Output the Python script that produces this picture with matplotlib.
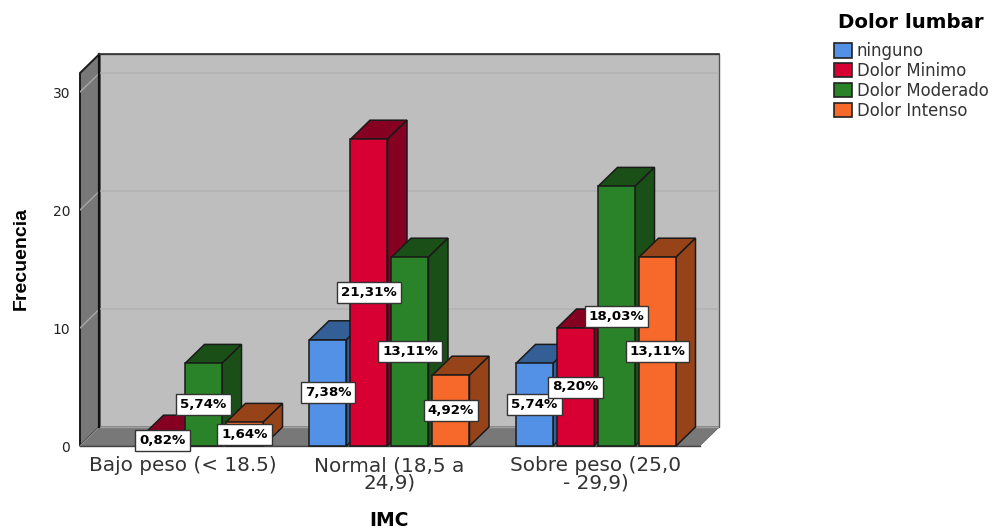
import matplotlib
matplotlib.use("Agg")
import matplotlib.pyplot as plt
from matplotlib.patches import Polygon, Patch

categories = ["Bajo peso (< 18.5)", "Normal (18,5 a\n24,9)", "Sobre peso (25,0\n- 29,9)"]
series_names = ["ninguno", "Dolor Minimo", "Dolor Moderado", "Dolor Intenso"]
ninguno = [0, 9, 7]
minimo = [1, 26, 10]
moderado = [7, 16, 22]
intenso = [2, 6, 16]
ninguno_pct = ["", "7,38%", "5,74%"]
minimo_pct = ["0,82%", "21,31%", "8,20%"]
moderado_pct = ["5,74%", "13,11%", "18,03%"]
intenso_pct = ["1,64%", "4,92%", "13,11%"]
y_ticks = [0, 10, 20, 30]

front_colors = ["#5291E6", "#D80032", "#2A8328", "#F7692B"]
shade_colors = ["#345F96", "#860022", "#1A5017", "#964319"]
EDGE = "#1a1a1a"

W, H = 995, 529
fig = plt.figure(figsize=(W / 100, H / 100), dpi=100)
L, R, T, B = 80, 719, 54, 446
ax = fig.add_axes([L / W, 1 - B / H, (R - L) / W, (B - T) / H])

PX_X = 206.5      # pixels per category
PX_Y = 11.8       # pixels per count
x_min = (L - 183) / PX_X
x_max = x_min + (R - L) / PX_X
y_max = (B - T) / PX_Y
ax.set_xlim(x_min, x_max)
ax.set_ylim(0, y_max)

dx = 19.5 / PX_X  # depth offset of the 3D projection
dy = 19 / PX_Y
bar_w = 37 / PX_X
bar_step = 41 / PX_X


def face(points, fc, ec=EDGE, lw=1.1, z=2):
    ax.add_patch(Polygon(points, closed=True, fc=fc, ec=ec, lw=lw, zorder=z,
                         clip_on=False, joinstyle="miter"))


# Chart box: back wall, left wall and floor
face([(x_min + dx, dy), (x_max, dy), (x_max, y_max), (x_min + dx, y_max)], "#BEBEBE", ec="#555555", lw=1.0, z=1)
face([(x_min, 0), (x_min + dx, dy), (x_min + dx, y_max), (x_min, y_max - dy)], "#787878", lw=1.4, z=1)
face([(x_min, 0), (x_max - dx, 0), (x_max, dy), (x_min + dx, dy)], "#787878", ec="#6a6a6a", lw=0.8, z=1)
ax.plot([x_min + dx, x_min + dx], [dy, y_max], color="#111111", lw=1.6, zorder=1.2, clip_on=False)
ax.plot([x_min, x_max - dx], [0, 0], color="#444444", lw=1.0, zorder=1.2, clip_on=False)
ax.plot([x_min + dx, x_max], [y_max, y_max], color="#333333", lw=1.2, zorder=1.2, clip_on=False)

# Gridlines wrap around the left wall and the back wall
for v in y_ticks[1:]:
    ax.plot([x_min + dx, x_max], [v + dy, v + dy], color="#B2B2B2", lw=1.2, zorder=1.1)
    ax.plot([x_min, x_min + dx], [v, v + dy], color="#A8A8A8", lw=1.0, zorder=1.1)
ax.plot([x_min, x_min + dx], [0, dy], color="#8E8E8E", lw=0.8, zorder=1.1)
ax.plot([x_min + dx, x_max], [dy, dy], color="#A0A0A0", lw=1.0, zorder=1.1)

series = [ninguno, minimo, moderado, intenso]
labels = [ninguno_pct, minimo_pct, moderado_pct, intenso_pct]

# Bars: left to right so each one overlaps the side of the previous one
for g in range(len(categories)):
    for s, vals in enumerate(series):
        v = vals[g]
        if v == 0:
            continue
        x0 = g - 1.5 * bar_step - bar_w / 2 + s * bar_step
        x1 = x0 + bar_w
        face([(x0, v), (x1, v), (x1 + dx, v + dy), (x0 + dx, v + dy)], shade_colors[s])
        face([(x1, 0), (x1 + dx, dy), (x1 + dx, v + dy), (x1, v)], shade_colors[s])
        face([(x0, 0), (x1, 0), (x1, v), (x0, v)], front_colors[s])

# Percentage labels centred on the front face of each bar
for g in range(len(categories)):
    for s, vals in enumerate(series):
        if not labels[s][g]:
            continue
        xc = g - 1.5 * bar_step + s * bar_step
        ax.text(xc, vals[g] / 2, labels[s][g], ha="center", va="center",
                fontsize=9.6, fontweight="bold", family="DejaVu Sans", color="black", zorder=5,
                bbox=dict(boxstyle="square,pad=0.3", fc="white", ec="#333333", lw=1.0))

for sp in ax.spines.values():
    sp.set_visible(False)
ax.patch.set_visible(False)
ax.set_yticks(y_ticks)
ax.set_yticklabels([str(v) for v in y_ticks], family="DejaVu Sans", fontsize=10, color="#222222")
ax.set_xticks(range(len(categories)))
ax.set_xticklabels(categories, family="DejaVu Sans", fontsize=14.4, color="#333333", linespacing=0.9)
ax.tick_params(axis="both", length=0)
ax.tick_params(axis="x", pad=7.5)
ax.tick_params(axis="y", pad=7)

fig.text(389 / W, 1 - 521 / H, "IMC", ha="center", va="center", fontsize=13.5,
         fontweight="bold", family="DejaVu Sans")
fig.text(21 / W, 1 - 259 / H, "Frecuencia", ha="center", va="center", rotation=90,
         fontsize=14, fontweight="bold", family="Liberation Sans")

handles = [Patch(fc=c, ec="#222222", lw=1.2) for c in front_colors]
leg = fig.legend(handles, series_names, loc="upper left",
                 bbox_to_anchor=(832 / W, 1 - 11 / H), frameon=False,
                 title="Dolor lumbar", alignment="center",
                 prop={"family": "DejaVu Sans", "size": 11.9},
                 handlelength=1.08, handleheight=0.95, handletextpad=0.32,
                 labelspacing=0.12, borderpad=0.1, borderaxespad=0)
leg.get_title().set_fontsize(14.2)
leg.get_title().set_fontweight("bold")
leg.get_title().set_family("DejaVu Sans")
leg._legend_box.sep = 7.5  # gap between the legend title and its entries
for t in leg.get_texts():
    t.set_color("#333333")

fig.savefig("out.png", dpi=100)
